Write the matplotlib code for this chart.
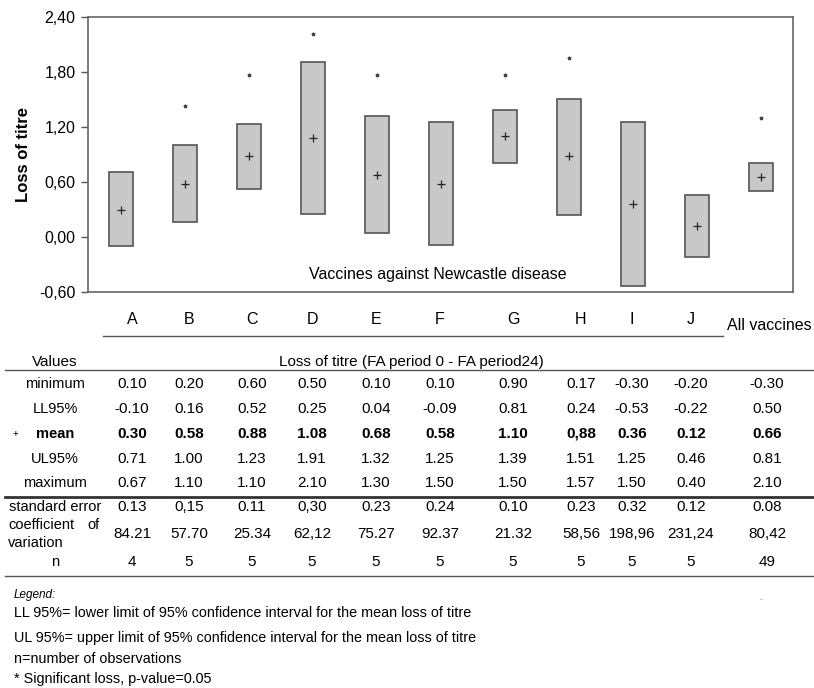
import numpy as np
import matplotlib.pyplot as plt
from matplotlib.lines import Line2D

plt.rcParams['font.family'] = ['Liberation Sans', 'DejaVu Sans']

# --------------------
# Data
# --------------------
vaccines = ['A', 'B', 'C', 'D', 'E', 'F', 'G', 'H', 'I', 'J', 'All vaccines']
minimum = [0.10, 0.20, 0.60, 0.50, 0.10, 0.10, 0.90, 0.17, -0.30, -0.20, -0.30]
ll95 = [-0.10, 0.16, 0.52, 0.25, 0.04, -0.09, 0.81, 0.24, -0.53, -0.22, 0.50]
mean = [0.30, 0.58, 0.88, 1.08, 0.68, 0.58, 1.10, 0.88, 0.36, 0.12, 0.66]
ul95 = [0.71, 1.00, 1.23, 1.91, 1.32, 1.25, 1.39, 1.51, 1.25, 0.46, 0.81]
maximum = [0.67, 1.10, 1.10, 2.10, 1.30, 1.50, 1.50, 1.57, 1.50, 0.40, 2.10]
std_err = [0.13, 0.15, 0.11, 0.30, 0.23, 0.24, 0.10, 0.23, 0.32, 0.12, 0.08]
coef_var = [84.21, 57.70, 25.34, 62.12, 75.27, 92.37, 21.32, 58.56, 198.96, 231.24, 80.42]
n_obs = [4, 5, 5, 5, 5, 5, 5, 5, 5, 5, 49]
# height of the "significant" asterisk (None = not significant)
signif = [None, 1.43, 1.77, 2.21, 1.77, None, 1.77, 1.95, None, None, 1.30]

yticks = [-0.60, 0.00, 0.60, 1.20, 1.80, 2.40]

# cells printed with a decimal comma in the original table
comma_cells = {('mean', 7), ('se', 1), ('se', 3), ('cv', 3),
               ('cv', 7), ('cv', 8), ('cv', 9), ('cv', 10)}

W, H = 814, 688


def fx(px):
    return px / W


def fy(py):
    return 1 - py / H


def fmt(v, row, i):
    s = f"{v:.2f}"
    if (row, i) in comma_cells:
        s = s.replace('.', ',')
    return s


fig = plt.figure(figsize=(W / 100, H / 100), dpi=100)

# --------------------
# Chart
# --------------------
ax = fig.add_axes([fx(88), fy(292), fx(793) - fx(88), fy(17) - fy(292)])
pos = np.arange(len(vaccines))
lo = np.array(ll95)
hi = np.array(ul95)
ax.bar(pos, hi - lo, bottom=lo, width=0.375, color='#c8c8c8',
       edgecolor='#555555', linewidth=1.2)
ax.plot(pos, mean, ls='', marker='+', ms=6, mew=0.9, color='#222222')
sx = [p for p, s in zip(pos, signif) if s is not None]
sy = [s for s in signif if s is not None]
ax.plot(sx, sy, ls='', marker='*', ms=2.5, color='#444444')

ax.set_xlim(-0.52, 10.5)
ax.set_ylim(-0.60, 2.40)
ax.set_yticks(yticks)
ax.set_yticklabels([f"{t:.2f}".replace('.', ',') for t in yticks], fontsize=11.5)
ax.set_xticks([])
ax.tick_params(axis='y', direction='out', length=5, width=1, color='#555555', pad=4)
for sp in ax.spines.values():
    sp.set_color('#666666')
    sp.set_linewidth(1.2)
ax.set_ylabel("Loss of titre", fontsize=12, fontweight='bold', labelpad=6)
fig.text(fx(438), fy(275), "Vaccines against Newcastle disease", fontsize=11.5,
         ha='center', va='center')

# --------------------
# Table
# --------------------
col_x = [132, 189, 252, 312, 376, 440, 513, 581, 632, 691, 767]


def hline(x0, x1, y, lw=1.0, color='#555555'):
    fig.add_artist(Line2D([fx(x0), fx(x1)], [fy(y), fy(y)], lw=lw, color=color,
                          transform=fig.transFigure))


for i, name in enumerate(vaccines[:-1]):
    fig.text(fx(col_x[i]), fy(320), name, fontsize=11.5, ha='center', va='center')
fig.text(fx(769), fy(326), vaccines[-1], fontsize=11.5, ha='center', va='center')
hline(103, 723, 336)

fig.text(fx(55), fy(362), "Values", fontsize=11, ha='center', va='center')
fig.text(fx(411), fy(362), "Loss of titre (FA period 0 - FA period24)", fontsize=11,
         ha='center', va='center')
hline(5, 813, 370)

rows = [("minimum", minimum, 'min', 384, 'normal'),
        ("LL95%", ll95, 'll', 409, 'normal'),
        ("mean", mean, 'mean', 434, 'bold'),
        ("UL95%", ul95, 'ul', 459, 'normal'),
        ("maximum", maximum, 'max', 483, 'normal')]
for label, vals, key, y, weight in rows:
    fig.text(fx(55), fy(y), label, fontsize=10.5, ha='center', va='center',
             fontweight=weight)
    for i, v in enumerate(vals):
        fig.text(fx(col_x[i]), fy(y), fmt(v, key, i), fontsize=11, ha='center',
                 va='center', fontweight=weight)
fig.text(fx(15), fy(434), "+", fontsize=7, ha='center', va='center')
hline(5, 813, 497, lw=2.0, color='#333333')

fig.text(fx(55), fy(507), "standard error", fontsize=10.5, ha='center', va='center')
fig.text(fx(8), fy(525), "coefficient", fontsize=10.5, ha='left', va='center')
fig.text(fx(100), fy(525), "of", fontsize=10.5, ha='right', va='center')
fig.text(fx(8), fy(543), "variation", fontsize=10.5, ha='left', va='center')
fig.text(fx(55), fy(562), "n", fontsize=10.5, ha='center', va='center')
for i in range(len(vaccines)):
    fig.text(fx(col_x[i]), fy(507), fmt(std_err[i], 'se', i), fontsize=11,
             ha='center', va='center')
    fig.text(fx(col_x[i]), fy(534), fmt(coef_var[i], 'cv', i), fontsize=11,
             ha='center', va='center')
    fig.text(fx(col_x[i]), fy(562), str(n_obs[i]), fontsize=11,
             ha='center', va='center')
hline(5, 813, 576)

# --------------------
# Legend notes
# --------------------
fig.text(fx(14), fy(595), "Legend:", fontsize=8.5, style='italic', ha='left', va='center')
notes = [(613, "LL 95%= lower limit of 95% confidence interval for the mean loss of titre"),
         (638, "UL 95%= upper limit of 95% confidence interval for the mean loss of titre"),
         (659, "n=number of observations"),
         (679, "* Significant loss, p-value=0.05")]
for y, s in notes:
    fig.text(fx(14), fy(y), s, fontsize=10.4, ha='left', va='center')
fig.text(fx(761), fy(600), "-", fontsize=6, ha='center', va='center', color='#777777')

plt.savefig('out.png', dpi=100)
